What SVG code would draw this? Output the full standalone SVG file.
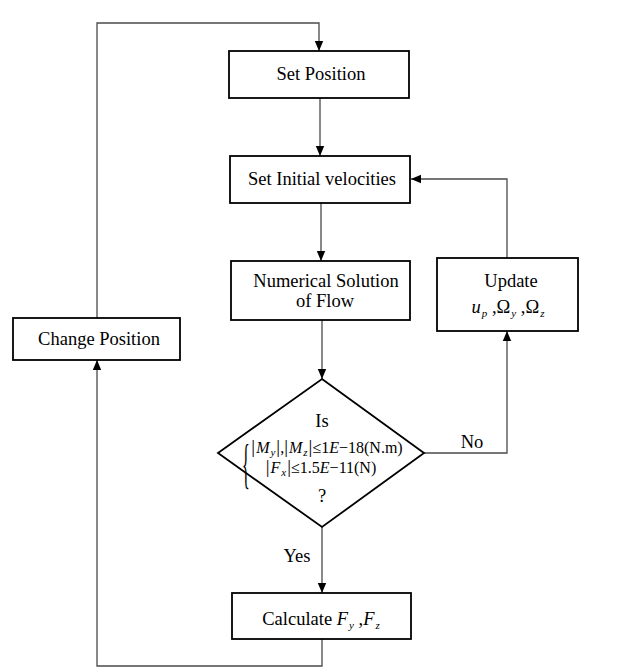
<svg xmlns="http://www.w3.org/2000/svg" width="634" height="668" viewBox="0 0 634 668">
<style>
.box{fill:#fff;stroke:#000;stroke-width:1.8}
.ln{fill:none;stroke:#4a4a4a;stroke-width:1.3}
text{font-family:"Liberation Serif","Times New Roman",serif;fill:#000}
.t{font-size:18.5px;text-anchor:middle}
.f{font-size:16px;text-anchor:middle}
.i{font-style:italic}
.s{font-size:11px;font-style:italic}
.bar{font-size:19px}
</style>
<defs>
<marker id="ah" viewBox="0 0 10 10" refX="10" refY="5" markerWidth="10" markerHeight="10" markerUnits="userSpaceOnUse" orient="auto">
<path d="M0,0.8 L10,5 L0,9.2 Z" fill="#000"/>
</marker>
</defs>
<rect width="634" height="668" fill="#fff"/>
<g font-family="Liberation Serif, Times New Roman, serif">
<g id="connectors">
<path class="ln" d="M97,318 V23 H319 V51" marker-end="url(#ah)"/>
<path class="ln" d="M320,98 V156" marker-end="url(#ah)"/>
<path class="ln" d="M321,203 V261" marker-end="url(#ah)"/>
<path class="ln" d="M322,320 V379" marker-end="url(#ah)"/>
<path class="ln" d="M322,527 V593" marker-end="url(#ah)"/>
<path class="ln" d="M424,453 H507 V331" marker-end="url(#ah)"/>
<path class="ln" d="M507,258 V179 H411" marker-end="url(#ah)"/>
<path class="ln" d="M322,639 V666 H97 V360" marker-end="url(#ah)"/>
<text class="t" x="472" y="448">No</text>
<text class="t" x="297" y="562">Yes</text>
</g>
<g id="set-position">
<rect class="box" x="229" y="51" width="180" height="47"/>
<text class="t" x="321" y="80">Set Position</text>
</g>
<g id="set-initial-velocities">
<rect class="box" x="230" y="156" width="180" height="47"/>
<text class="t" x="322" y="185">Set Initial velocities</text>
</g>
<g id="numerical-solution">
<rect class="box" x="231" y="261" width="179" height="59"/>
<text class="t" x="326" y="287">Numerical Solution</text>
<text class="t" x="325" y="307">of Flow</text>
</g>
<g id="update">
<rect class="box" x="437" y="258" width="141" height="73"/>
<text class="t" x="511" y="287">Update</text>
<text class="t" x="508" y="313"><tspan class="i">u</tspan><tspan class="s" dx="1" dy="4">p</tspan><tspan dy="-4"> ,Ω</tspan><tspan class="s" dx="1" dy="4">y</tspan><tspan dy="-4"> ,Ω</tspan><tspan class="s" dx="1" dy="4">z</tspan></text>
</g>
<g id="change-position">
<rect class="box" x="13" y="318" width="167" height="42"/>
<text class="t" x="99" y="345">Change Position</text>
</g>
<g id="decision">
<polygon class="box" points="322,379 424,453 322,527 218,453"/>
<text class="t" x="322" y="427">Is</text>
<text transform="translate(242,482) scale(0.3,1)" style="font-size:54px">{</text>
<text class="f" x="327" y="453"><tspan class="bar">|</tspan><tspan class="i" dx="1">M</tspan><tspan class="s" dx="1" dy="3">y</tspan><tspan class="bar" dx="1" dy="-3">|</tspan><tspan>,</tspan><tspan class="bar">|</tspan><tspan class="i" dx="1">M</tspan><tspan class="s" dx="1" dy="3">z</tspan><tspan class="bar" dx="1" dy="-3">|</tspan><tspan>≤1</tspan><tspan class="i">E</tspan><tspan>−18(N.m)</tspan></text>
<text class="f" x="321" y="473"><tspan class="bar">|</tspan><tspan class="i" dx="1">F</tspan><tspan class="s" dx="1" dy="3">x</tspan><tspan class="bar" dx="1" dy="-3">|</tspan><tspan>≤1.5</tspan><tspan class="i">E</tspan><tspan>−11(N)</tspan></text>
<text class="t" x="322" y="502">?</text>
</g>
<g id="calculate">
<rect class="box" x="232" y="593" width="179" height="46"/>
<text class="t" x="321" y="625">Calculate <tspan class="i">F</tspan><tspan class="s" dx="1" dy="4">y</tspan><tspan dy="-4"> ,</tspan><tspan class="i">F</tspan><tspan class="s" dx="1" dy="4">z</tspan></text>
</g>
</g>
</svg>
